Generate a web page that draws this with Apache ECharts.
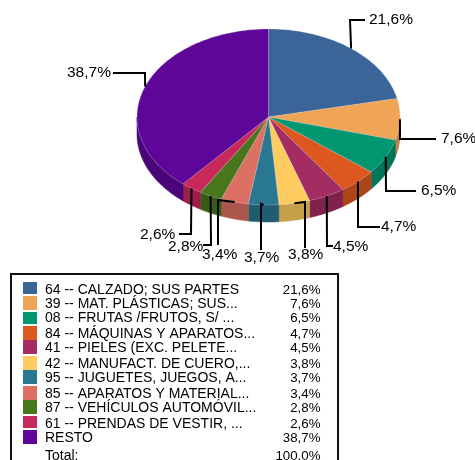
<!DOCTYPE html>
<html>
<head>
<meta charset="utf-8">
<style>
html, body { margin: 0; padding: 0; background: #fff; }
#chart { width: 475px; height: 460px; }
</style>
<script src="https://cdn.jsdelivr.net/npm/echarts@6/dist/echarts.min.js"></script>
</head>
<body>
<div id="chart"></div>
<script>
// datos del grafico
var categories = [
    '64 -- CALZADO; SUS PARTES',
    '39 -- MAT. PLÁSTICAS; SUS...',
    '08 -- FRUTAS /FRUTOS, S/ ...',
    '84 -- MÁQUINAS Y APARATOS...',
    '41 -- PIELES (EXC. PELETE...',
    '42 -- MANUFACT. DE CUERO,...',
    '95 -- JUGUETES, JUEGOS, A...',
    '85 -- APARATOS Y MATERIAL...',
    '87 -- VEHÍCULOS AUTOMÓVIL...',
    '61 -- PRENDAS DE VESTIR, ...',
    'RESTO'
];
var values = [21.6, 7.6, 6.5, 4.7, 4.5, 3.8, 3.7, 3.4, 2.8, 2.6, 38.7];
var valueLabels = ['21,6%', '7,6%', '6,5%', '4,7%', '4,5%', '3,8%', '3,7%', '3,4%', '2,8%', '2,6%', '38,7%'];
var totalLabel = 'Total:';
var totalValue = '100.0%';

var colors = ['#3B6598', '#F0A556', '#009670', '#DD581E', '#A32C62', '#FFCC5F', '#297791', '#DC7062', '#47771A', '#C9285B', '#5F069A'];

// geometria del pie
var cx = 268.5, cy = 117, rx = 131.5, ry = 88, depth = 17;
var wallShade = 0.78;

// codos de las lineas guia (el inicio sale del borde, en el angulo medio)
var leaderBends = [
    [[350, 20], [365, 20]],
    [[400, 139], [436, 139]],
    [[386, 191], [416, 191]],
    [[358, 227], [380, 227]],
    [[327, 246], [333, 246]],
    [[305, 202], [305, 248]],
    [[261, 204], [261, 250]],
    [[218, 200], [218, 245]],
    [[211, 245], [203, 245]],
    [[191, 234], [179, 234]],
    [[145, 73], [113, 73]]
];
var labelPos = [
    [369, 20], [441, 139], [421, 191], [381, 227], [333, 247],
    [288, 255], [244, 258], [202, 255], [168, 247], [140, 235], [67, 73]
];

// filas de la leyenda
var rowY = [290, 304, 318, 334, 348, 364, 378, 394, 408, 424, 438];
var swatchTop = [282, 296, 312, 326, 340, 356, 370, 386, 400, 416, 430];
var swatchHeight = [12, 14, 12, 14, 14, 14, 14, 14, 14, 12, 14];
var totalY = 456;

var total = values.reduce(function (a, b) { return a + b; }, 0);

function darken(hex, k) {
    var n = parseInt(hex.slice(1), 16);
    var r = Math.round((n >> 16 & 255) * k);
    var g = Math.round((n >> 8 & 255) * k);
    var b = Math.round((n & 255) * k);
    return 'rgb(' + r + ',' + g + ',' + b + ')';
}

// angulo medido desde arriba en sentido horario
function rim(a, dy) {
    return [cx + rx * Math.sin(a), cy - ry * Math.cos(a) + (dy || 0)];
}

function arcPoints(a0, a1, dy) {
    var pts = [];
    var n = Math.max(2, Math.ceil((a1 - a0) / 0.02));
    for (var i = 0; i <= n; i++) {
        pts.push(rim(a0 + (a1 - a0) * i / n, dy));
    }
    return pts;
}

var startAngles = [];
var sum = 0;
values.forEach(function (v) {
    startAngles.push(sum / total * Math.PI * 2);
    sum += v;
});

function sliceRange(i) {
    return [startAngles[i], startAngles[i] + values[i] / total * Math.PI * 2];
}

// paredes: solo la parte delantera (entre 90 y 270 grados)
function renderWall(params, api) {
    var i = params.dataIndex;
    var r = sliceRange(i);
    var a0 = Math.max(r[0], Math.PI / 2);
    var a1 = Math.min(r[1], Math.PI * 1.5);
    if (a1 <= a0) {
        return { type: 'group', children: [] };
    }
    var pts = arcPoints(a0, a1, 0).concat(arcPoints(a0, a1, depth).reverse());
    return {
        type: 'polygon',
        shape: { points: pts },
        style: { fill: darken(colors[i], wallShade), stroke: darken(colors[i], wallShade), lineWidth: 0.5 }
    };
}

function renderTop(params, api) {
    var i = params.dataIndex;
    var r = sliceRange(i);
    var pts = [[cx, cy]].concat(arcPoints(r[0], r[1], 0));
    return {
        type: 'polygon',
        shape: { points: pts },
        style: { fill: colors[i], stroke: 'rgba(205,205,225,0.35)', lineWidth: 0.7 }
    };
}

function renderLeader(params, api) {
    var i = params.dataIndex;
    var r = sliceRange(i);
    var start = rim((r[0] + r[1]) / 2, 0);
    return {
        type: 'polyline',
        shape: { points: [start].concat(leaderBends[i]) },
        style: { fill: 'none', stroke: '#000', lineWidth: 2 }
    };
}

function renderLabel(params, api) {
    var i = params.dataIndex;
    return {
        type: 'text',
        x: labelPos[i][0],
        y: labelPos[i][1],
        style: {
            text: valueLabels[i],
            fill: '#000',
            font: '15.5px "Liberation Sans"',
            align: 'left',
            verticalAlign: 'middle'
        }
    };
}

function seriesOf(render, z) {
    return {
        type: 'custom',
        coordinateSystem: 'none',
        renderItem: render,
        silent: true,
        animation: false,
        clip: false,
        z: z,
        data: values
    };
}

// leyenda como tabla
var legendItems = [{
    type: 'rect',
    shape: { x: 11, y: 274, width: 327, height: 200 },
    style: { fill: '#fff', stroke: '#111', lineWidth: 2 }
}];
categories.forEach(function (name, i) {
    legendItems.push({
        type: 'rect',
        shape: { x: 23, y: swatchTop[i], width: 14, height: swatchHeight[i] },
        style: { fill: colors[i] }
    });
    legendItems.push({
        type: 'text', x: 45, y: rowY[i],
        style: { text: name, fill: '#000', font: '14px "Liberation Sans"', verticalAlign: 'middle' }
    });
    legendItems.push({
        type: 'text', x: 320.5, y: rowY[i],
        style: { text: valueLabels[i], fill: '#000', font: '13.3px "Liberation Sans"', align: 'right', verticalAlign: 'middle' }
    });
});
legendItems.push({
    type: 'text', x: 45, y: totalY,
    style: { text: totalLabel, fill: '#000', font: '14px "Liberation Sans"', verticalAlign: 'middle' }
});
legendItems.push({
    type: 'text', x: 320.5, y: totalY,
    style: { text: totalValue, fill: '#000', font: '13.3px "Liberation Sans"', align: 'right', verticalAlign: 'middle' }
});

var myChart = echarts.init(document.getElementById('chart'), null, { renderer: 'canvas' });
myChart.setOption({
    backgroundColor: '#fff',
    animation: false,
    graphic: { elements: legendItems },
    series: [
        seriesOf(renderWall, 1),
        seriesOf(renderTop, 2),
        seriesOf(renderLeader, 3),
        seriesOf(renderLabel, 4)
    ]
});
</script>
</body>
</html>
